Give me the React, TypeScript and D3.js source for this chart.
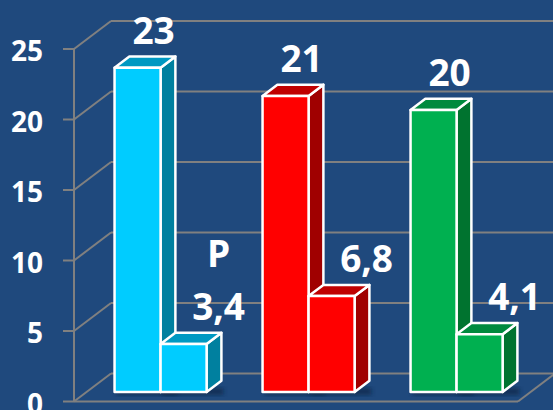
import React from "react";
import * as d3 from "d3";

const categories = ["Grupo 1", "Grupo 2", "Grupo 3"];
const seriesA = [23, 21, 20];
const seriesB = [3.4, 6.8, 4.1];
const yTicks = [0, 5, 10, 15, 20, 25];
const annotation = "P";

const W = 553;
const H = 410;
const palette = [
  { front: "#00CCFF", top: "#0099C2", side: "#00809F" },
  { front: "#FF0000", top: "#C00000", side: "#A00000" },
  { front: "#00B050", top: "#008A3E", side: "#00732F" },
];
const FONT = "'Open Sans', 'DejaVu Sans', sans-serif";
const fmt = (v: number) => String(v).replace(".", ",");

export default function App() {
  const x0 = 74, x1 = 518, yB = 401.5, yT = 49;
  const DX = 37, DY = 28;
  const y = d3.scaleLinear().domain([0, 25]).range([yB, yT]);
  const x = d3.scaleBand().domain(categories).range([x0, x1]).paddingInner(0.378).paddingOuter(0.189);
  const xs = d3.scaleBand().domain(["a", "b"]).range([0, x.bandwidth()]);
  const zf = 0.34, df = 0.4;
  const ox = DX * zf, oy = DY * zf;
  const bdx = DX * df, bdy = DY * df;
  const grid = "#808080";

  const bars: any[] = [];
  categories.forEach((c, i) => {
    [["a", seriesA[i]], ["b", seriesB[i]]].forEach(([s, v]: any) => {
      const left = (x(c) as number) + (xs(s) as number) + ox;
      const w = xs.bandwidth();
      const top = y(v) - oy;
      const bottom = y(0) - oy;
      bars.push({ c, i, s, v, left, w, top, bottom });
    });
  });

  return (
    <svg width={W} height={H} style={{ position: "fixed", left: 0, top: 0 }}>
      <defs>
        <filter id="sh" x="-20%" y="-20%" width="140%" height="140%">
          <feGaussianBlur stdDeviation="2" />
        </filter>
      </defs>
      <rect x={0} y={0} width={W} height={H} fill="#1F497D" />
      {/* back wall gridlines */}
      {yTicks.map((t) => (
        <line key={"g" + t} x1={x0 + DX} x2={W + 10} y1={y(t) - DY} y2={y(t) - DY} stroke={grid} strokeWidth={2} />
      ))}
      {/* left wall diagonals */}
      {yTicks.map((t) => (
        <line key={"d" + t} x1={x0} x2={x0 + DX} y1={y(t)} y2={y(t) - DY} stroke={grid} strokeWidth={2} />
      ))}
      {/* ticks */}
      {yTicks.map((t) => (
        <line key={"t" + t} x1={x0 - 11} x2={x0} y1={y(t)} y2={y(t)} stroke={grid} strokeWidth={2} />
      ))}
      <line x1={x0} x2={x0} y1={y(25)} y2={y(0)} stroke={grid} strokeWidth={2} />
      <line x1={x0} x2={x1} y1={y(0)} y2={y(0)} stroke={grid} strokeWidth={2} />
      <line x1={x1} x2={x1 + DX} y1={y(0)} y2={y(0) - DY} stroke={grid} strokeWidth={2} />
      {/* shadows */}
      {bars.map((b, k) => (
        <rect key={"s" + k} x={b.left + 2} y={b.bottom - 4} width={b.w + bdx} height={7} fill="#0f2746" opacity={0.7} filter="url(#sh)" />
      ))}
      {/* bars */}
      {bars.map((b, k) => {
        const p = palette[b.i];
        const { left, w, top, bottom } = b;
        const topPts = [[left, top], [left + bdx, top - bdy], [left + w + bdx, top - bdy], [left + w, top]];
        const sidePts = [[left + w, top], [left + w + bdx, top - bdy], [left + w + bdx, bottom - bdy], [left + w, bottom]];
        const pts = (a: number[][]) => a.map((q) => q.join(",")).join(" ");
        return (
          <g key={"b" + k} stroke="#FFFFFF" strokeWidth={2.5} strokeLinejoin="round">
            <polygon points={pts(sidePts)} fill={p.side} />
            <polygon points={pts(topPts)} fill={p.top} />
            <rect x={left} y={top} width={w} height={bottom - top} fill={p.front} />
          </g>
        );
      })}
      {/* y labels */}
      {yTicks.map((t) => (
        <text key={"l" + t} x={43} y={y(t) + 1} textAnchor="end" dominantBaseline="central" fill="#FFFFFF" fontFamily={FONT} fontWeight={700} fontSize={28}>
          {t}
        </text>
      ))}
      {/* value labels */}
      {bars.map((b, k) => (
        <text key={"v" + k} x={b.left + b.w / 2 + (b.s === "a" ? 16 : 35)} y={b.top - 24} textAnchor="middle" fill="#FFFFFF" fontFamily={FONT} fontWeight={700} fontSize={37}>
          {fmt(b.v)}
        </text>
      ))}
      {(() => {
        const b = bars[1];
        return (
          <text x={b.left + b.w / 2 + 35} y={b.top - 24 - 53} textAnchor="middle" fill="#FFFFFF" fontFamily={FONT} fontWeight={700} fontSize={37}>
            {annotation}
          </text>
        );
      })()}
    </svg>
  );
}
